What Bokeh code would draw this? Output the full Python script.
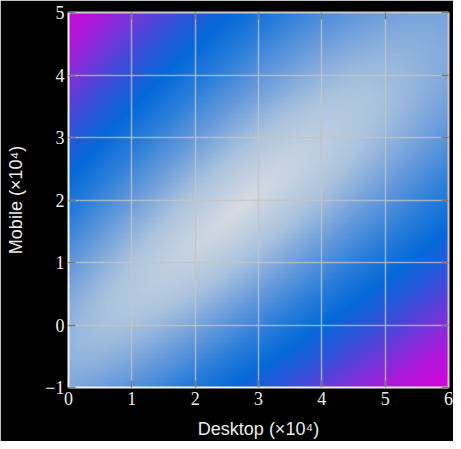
import numpy as np
from bokeh.plotting import figure
from bokeh.models import LinearAxis, FixedTicker
from bokeh.embed import file_html
from bokeh.resources import INLINE

# ---- data ----
x_ticks = [0, 1, 2, 3, 4, 5, 6]
y_ticks = [-1, 0, 1, 2, 3, 4, 5]
x_tick_labels = ["0", "1", "2", "3", "4", "5", "6"]
y_tick_labels = ["\u22121", "0", "1", "2", "3", "4", "5"]
x_label = "Desktop (\u00d710\u2074)"
y_label = "Mobile (\u00d710\u2074)"

# colour stops of the field (normalised distance from the light diagonal -> colour)
stop_dist = [0.0, 0.3, 0.55, 0.8, 1.0, 1.15, 1.3, 1.45, 1.6, 1.78]
stop_red = [216, 170, 105, 40, 5, 35, 75, 125, 170, 205]
stop_green = [220, 195, 155, 125, 105, 90, 70, 50, 25, 8]
stop_blue = [227, 222, 220, 218, 216, 216, 216, 216, 216, 216]
x_lo, x_hi = 0.0, 6.0
y_lo, y_hi = -1.0, 5.0

# ---- field ----
n = 300
xs = np.linspace(x_lo, x_hi, n)
ys = np.linspace(y_lo, y_hi, n)
X, Y = np.meshgrid(xs, ys)
S = X + Y
mid = 0.86 + 0.07 * (S - 5.0)
half = 3.33 + 0.085 * (S - 5.0)
t = np.abs(X - Y - mid) / half
h = np.sqrt(t ** 2 + 0.006 * (S - 4.6) ** 2)
h = np.clip(h, 0, stop_dist[-1])
img = np.empty((n, n), dtype=np.uint32)
view = img.view(dtype=np.uint8).reshape((n, n, 4))
view[..., 0] = np.interp(h, stop_dist, stop_red).astype(np.uint8)
view[..., 1] = np.interp(h, stop_dist, stop_green).astype(np.uint8)
view[..., 2] = np.interp(h, stop_dist, stop_blue).astype(np.uint8)
view[..., 3] = 255

p = figure(width=453, height=441, x_range=(x_lo, x_hi), y_range=(y_lo, y_hi),
           output_backend="svg", toolbar_location=None,
           min_border_left=68, min_border_right=5, min_border_top=12, min_border_bottom=50)
p.background_fill_color = "black"
p.border_fill_color = "black"
p.outline_line_color = None

r = p.image_rgba(image=[img], x=x_lo, y=y_lo, dw=x_hi - x_lo, dh=y_hi - y_lo)
r.level = "image"

for g in (p.xgrid, p.ygrid):
    g.grid_line_color = "#c4c4c4"
    g.grid_line_alpha = 0.75
    g.grid_line_width = 1.5
p.xgrid.ticker = FixedTicker(ticks=x_ticks)
p.ygrid.ticker = FixedTicker(ticks=y_ticks)

def style_axis(ax, ticks, labels, show_labels, line_color):
    ax.ticker = FixedTicker(ticks=ticks)
    ax.major_label_overrides = {t: (l if show_labels else "") for t, l in zip(ticks, labels)}
    ax.minor_tick_line_color = None
    ax.major_tick_in = 7
    ax.major_tick_out = 0
    ax.major_tick_line_color = "#7a7a7a"
    ax.major_tick_line_width = 1.5
    ax.axis_line_color = line_color
    ax.axis_line_width = 2
    ax.major_label_text_color = "#ececec"
    ax.major_label_text_font = "Liberation Serif"
    ax.major_label_text_font_size = "18px"
    ax.major_label_standoff = 4
    ax.axis_label_text_color = "#ececec"
    ax.axis_label_text_font = "Liberation Sans"
    ax.axis_label_text_font_size = "18px"
    ax.axis_label_text_font_style = "normal"

xb = p.xaxis[0]
yl = p.yaxis[0]
style_axis(xb, x_ticks, x_tick_labels, True, "#f2f2f2")
style_axis(yl, y_ticks, y_tick_labels, True, "#f2f2f2")
xb.axis_label = x_label
yl.axis_label = y_label
xb.axis_label_standoff = 11
yl.axis_label_standoff = 16

xt = LinearAxis()
style_axis(xt, x_ticks, x_tick_labels, False, "#c8c8c8")
xt.major_label_text_font_size = "0px"
xt.major_label_standoff = 0
p.add_layout(xt, "above")
yr = LinearAxis()
style_axis(yr, y_ticks, y_tick_labels, False, "#c8c8c8")
yr.major_label_text_font_size = "0px"
yr.major_label_standoff = 0
p.add_layout(yr, "right")

open("out.html", "w").write(file_html(p, INLINE))
